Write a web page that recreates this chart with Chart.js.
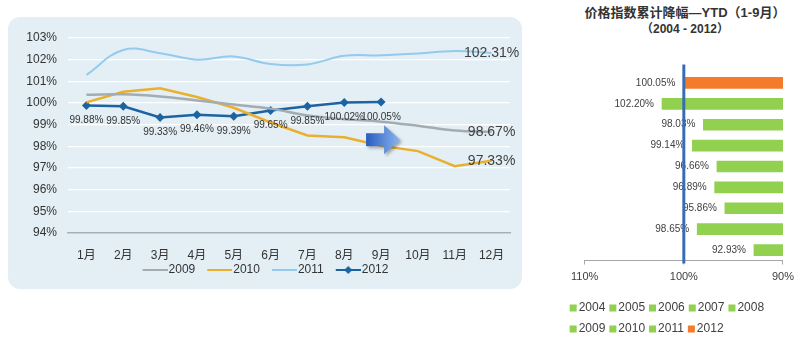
<!DOCTYPE html>
<html>
<head>
<meta charset="utf-8">
<script src="https://cdn.jsdelivr.net/npm/chart.js@4.4.0/dist/chart.umd.min.js"></script>
<style>
  html, body { margin: 0; padding: 0; background: #fff; width: 800px; height: 341px; overflow: hidden; }
  #panel { position: absolute; left: 8px; top: 17px; width: 514px; height: 272px; background: #e3eff5; border-radius: 12px; }
  #lineChart { position: absolute; left: 0; top: 0; }
  #barChart { position: absolute; left: 565px; top: 0; }
  #barTitle { position: absolute; left: 570px; top: 5px; width: 230px; text-align: center;
    font: bold 12px "Liberation Sans", "Noto Sans CJK SC", sans-serif; line-height: 16px; color: #333; }
  #barTitle .l1 { font-size: 13px; }
</style>
</head>
<body>
<div id="panel"></div>
<canvas id="lineChart" width="530" height="300"></canvas>
<div id="barTitle"><span class="l1">价格指数累计降幅—YTD（1-9月）</span><br>（2004 - 2012）</div>
<canvas id="barChart" width="235" height="341"></canvas>
<script>
// 月度价格指数（%）
const months = ['1月', '2月', '3月', '4月', '5月', '6月', '7月', '8月', '9月', '10月', '11月', '12月'];
const seriesNames = ['2009', '2010', '2011', '2012'];
const idx2009 = [100.38, 100.40, 100.30, 100.12, 99.93, 99.74, 99.42, 99.25, 99.14, 98.95, 98.73, 98.67];
const idx2010 = [100.03, 100.52, 100.68, 100.28, 99.78, 99.10, 98.50, 98.42, 98.03, 97.78, 97.08, 97.33];
const idx2011 = [101.30, 102.45, 102.30, 102.00, 102.15, 101.80, 101.78, 102.18, 102.20, 102.28, 102.40, 102.31];
const idx2012 = [99.88, 99.85, 99.33, 99.46, 99.39, 99.65, 99.85, 100.02, 100.05];

// YTD 累计（1-9月）
const ytdYears = ['2004', '2005', '2006', '2007', '2008', '2009', '2010', '2011', '2012'];
const ytdValues = [92.93, 98.65, 95.86, 96.89, 96.66, 99.14, 98.03, 102.20, 100.05];

Chart.defaults.font.family = '"Liberation Sans", "Noto Sans CJK SC", sans-serif';
Chart.defaults.font.size = 12;
Chart.defaults.color = '#333';

const lineColors = ['#a3abb3', '#e9b02f', '#93cbec', '#1c63a2'];

// legend icons: short line, 2012 with a diamond (line pushed right, next to the text)
function legendIcon(color, diamond) {
  const c = document.createElement('canvas');
  c.width = 41; c.height = 10;
  const g = c.getContext('2d');
  g.strokeStyle = color; g.lineWidth = 2;
  g.beginPath(); g.moveTo(16, 5); g.lineTo(41, 5); g.stroke();
  if (diamond) {
    g.fillStyle = color;
    g.beginPath(); g.moveTo(28.5, 1); g.lineTo(32.5, 5); g.lineTo(28.5, 9); g.lineTo(24.5, 5); g.closePath(); g.fill();
  }
  return c;
}
const icons = lineColors.map((c, i) => legendIcon(c, i === 3));

const lineLabels = {
  id: 'lineLabels',
  afterDatasetsDraw(chart) {
    const ctx = chart.ctx;
    ctx.save();
    ctx.textAlign = 'center';
    ctx.textBaseline = 'middle';
    chart.data.datasets.forEach((ds, i) => {
      const pts = chart.getDatasetMeta(i).data;
      if (ds.label === '2012') {
        ctx.font = '10px "Liberation Sans", sans-serif';
        ctx.fillStyle = '#333';
        pts.forEach((p, j) => ctx.fillText(ds.data[j].toFixed(2) + '%', p.x, p.y + 15));
      } else {
        const j = ds.data.length - 1;
        ctx.font = '14px "Liberation Sans", sans-serif';
        ctx.fillStyle = '#404040';
        ctx.fillText(ds.data[j].toFixed(2) + '%', pts[j].x, pts[j].y);
      }
    });
    ctx.restore();
  }
};

// blue arrow next to September
const arrow = {
  id: 'arrow',
  afterDatasetsDraw(chart) {
    const {ctx, scales: {x, y}} = chart;
    const cx = x.getPixelForValue(8), cy = y.getPixelForValue(98.3);
    ctx.save();
    const grad = ctx.createLinearGradient(cx - 15, 0, cx + 19, 0);
    grad.addColorStop(0, '#2a5cc0');
    grad.addColorStop(1, '#8ab6ee');
    ctx.shadowColor = 'rgba(0,0,0,0.3)';
    ctx.shadowOffsetX = 2; ctx.shadowOffsetY = 2; ctx.shadowBlur = 3;
    ctx.fillStyle = grad;
    ctx.beginPath();
    ctx.moveTo(cx - 15, cy - 6.5);
    ctx.lineTo(cx + 3, cy - 6.5);
    ctx.lineTo(cx + 3, cy - 14.5);
    ctx.lineTo(cx + 19, cy);
    ctx.lineTo(cx + 3, cy + 14.5);
    ctx.lineTo(cx + 3, cy + 6.5);
    ctx.lineTo(cx - 15, cy + 6.5);
    ctx.closePath();
    ctx.fill();
    ctx.restore();
  }
};

new Chart(document.getElementById('lineChart'), {
  type: 'line',
  data: {
    labels: months,
    datasets: [
      { label: seriesNames[0], data: idx2009, borderColor: lineColors[0], borderWidth: 2.5, pointRadius: 0, tension: 0.4 },
      { label: seriesNames[1], data: idx2010, borderColor: lineColors[1], borderWidth: 2.5, pointRadius: 0, tension: 0 },
      { label: seriesNames[2], data: idx2011, borderColor: lineColors[2], borderWidth: 2, pointRadius: 0, tension: 0.4 },
      { label: seriesNames[3], data: idx2012, borderColor: lineColors[3], backgroundColor: lineColors[3], borderWidth: 2.5,
        pointStyle: 'rectRot', pointRadius: 4.5, pointBorderWidth: 0, tension: 0 }
    ]
  },
  options: {
    responsive: false,
    animation: false,
    layout: { padding: { left: 8, right: 18, top: 38, bottom: 14 } },
    plugins: {
      tooltip: { enabled: false },
      legend: {
        position: 'bottom',
        labels: {
          usePointStyle: true,
          pointStyleWidth: 31,
          padding: 1,
          color: '#333',
          font: { size: 12 },
          generateLabels: chart => chart.data.datasets.map((ds, i) => ({
            text: ds.label, pointStyle: icons[i], fillStyle: 'transparent', strokeStyle: 'transparent',
            lineWidth: 0, fontColor: '#333', hidden: false, datasetIndex: i
          }))
        }
      }
    },
    scales: {
      x: {
        offset: true,
        grid: { display: true, drawOnChartArea: false, drawTicks: false, offset: false },
        border: { color: '#a6aeb6', width: 1.5 },
        ticks: { padding: 15 },
        afterFit: s => { s.height = 30; }
      },
      y: {
        min: 94, max: 103,
        ticks: { stepSize: 1, padding: 11, callback: v => v + '%' },
        grid: { color: '#ffffff', lineWidth: 1.2, drawTicks: false },
        border: { display: false },
        afterFit: s => { s.width = 60; }
      },
      yPad: {
        position: 'right',
        ticks: { display: false },
        grid: { display: false },
        border: { display: false },
        afterFit: s => { s.width = 2; }
      }
    }
  },
  plugins: [lineLabels, arrow]
});

// ---- YTD bar chart ----
const barColors = ytdYears.map(y => y === '2012' ? '#f47b2c' : '#92d050');

const barLabels = {
  id: 'barLabels',
  afterDatasetsDraw(chart) {
    const {ctx, scales: {x}} = chart;
    const bars = chart.getDatasetMeta(0).data;
    ctx.save();
    ctx.font = '10px "Liberation Sans", sans-serif';
    ctx.fillStyle = '#404040';
    ctx.textAlign = 'right';
    ctx.textBaseline = 'middle';
    bars.forEach((b, i) => ctx.fillText(ytdValues[i].toFixed(2) + '%', x.getPixelForValue(ytdValues[i]) - 8, b.y));
    // 100% reference line
    const px = x.getPixelForValue(100);
    ctx.strokeStyle = '#3a6cb4';
    ctx.lineWidth = 3;
    ctx.beginPath();
    ctx.moveTo(px, chart.chartArea.top - 8);
    ctx.lineTo(px, chart.chartArea.bottom + 3);
    ctx.stroke();
    ctx.restore();
  }
};

const squareLegend = {
  id: 'squareLegend',
  afterDraw(chart) {
    const {ctx, chartArea} = chart;
    ctx.save();
    ctx.font = '12px "Liberation Sans", sans-serif';
    ctx.textBaseline = 'middle';
    const x0 = chartArea.left - 15;
    let x = x0, y = chartArea.bottom + 47.5;
    ytdYears.forEach((yr, i) => {
      const w = 7 + 2 + ctx.measureText(yr).width;
      if (x + w > chart.width - 8) { x = x0; y += 21; }
      ctx.fillStyle = barColors[i];
      ctx.fillRect(x, y - 3.5, 7, 7);
      ctx.fillStyle = '#404040';
      ctx.fillText(yr, x + 9, y);
      x += w + 4;
    });
    ctx.restore();
  }
};

new Chart(document.getElementById('barChart'), {
  type: 'bar',
  data: {
    labels: ytdYears,
    datasets: [{
      label: 'YTD',
      data: ytdValues.map(v => [v, 90]),
      backgroundColor: barColors,
      borderWidth: 0,
      barThickness: 11
    }]
  },
  options: {
    indexAxis: 'y',
    responsive: false,
    animation: false,
    layout: { padding: { left: 4, right: 17, top: 72.5, bottom: 56.5 } },
    plugins: { legend: { display: false }, tooltip: { enabled: false } },
    scales: {
      x: {
        min: 90, max: 110, reverse: true,
        ticks: { stepSize: 10, padding: 6, color: '#404040', font: { size: 11 }, callback: v => v + '%' },
        grid: { drawOnChartArea: false, drawTicks: true, tickLength: 4, color: '#a6a6a6' },
        border: { color: '#a6a6a6' },
        afterFit: s => { s.height = 24; }
      },
      y: {
        reverse: true,
        ticks: { display: false },
        grid: { display: false },
        border: { display: false },
        afterFit: s => { s.width = 13; }
      }
    }
  },
  plugins: [barLabels, squareLegend]
});
</script>
</body>
</html>
